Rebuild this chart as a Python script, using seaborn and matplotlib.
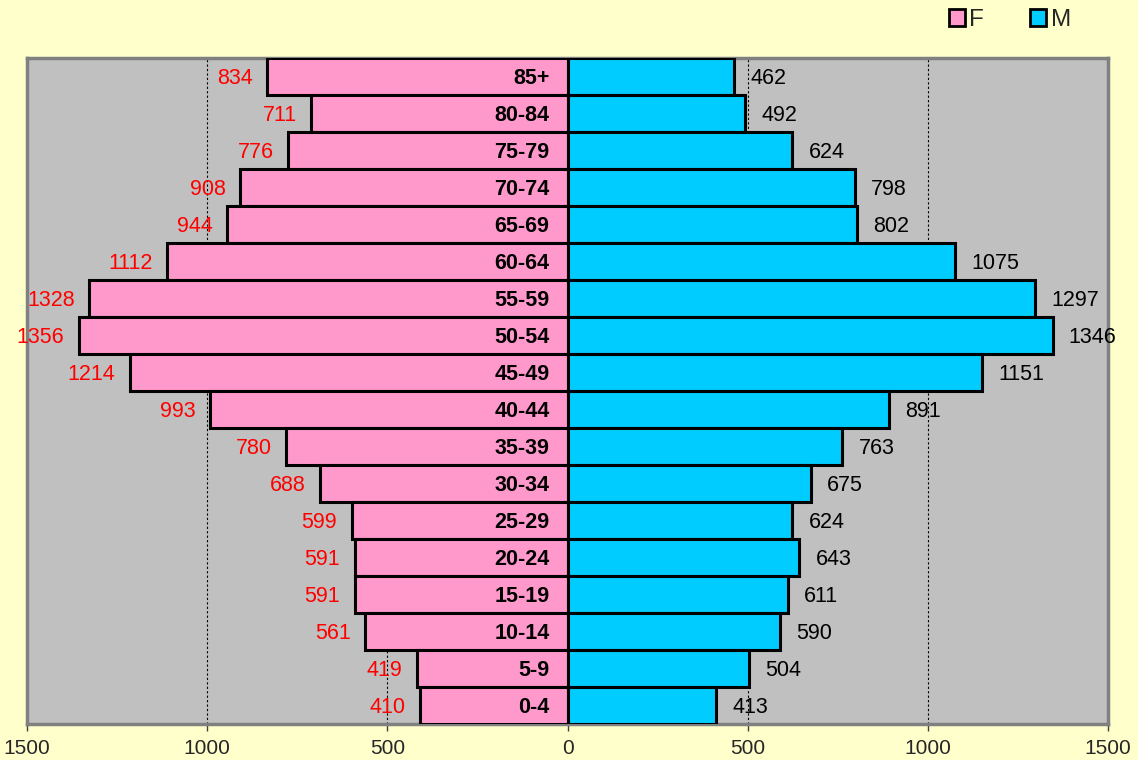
import matplotlib
matplotlib.use("Agg")
import matplotlib.pyplot as plt
from matplotlib.patches import Patch
from matplotlib.ticker import FuncFormatter
import seaborn as sns
import pandas as pd

# Age groups, youngest first
age_groups = ["0-4", "5-9", "10-14", "15-19", "20-24", "25-29", "30-34", "35-39",
              "40-44", "45-49", "50-54", "55-59", "60-64", "65-69", "70-74",
              "75-79", "80-84", "85+"]
females = [410, 419, 561, 591, 591, 599, 688, 780, 993, 1214, 1356, 1328,
           1112, 944, 908, 776, 711, 834]
males = [413, 504, 590, 611, 643, 624, 675, 763, 891, 1151, 1346, 1297,
         1075, 802, 798, 624, 492, 462]
x_ticks = [-1500, -1000, -500, 0, 500, 1000, 1500]

PINK = "#FF99CC"
CYAN = "#00CCFF"
PANEL = "#C0C0C0"
PAPER = "#FFFFCC"

sns.set_style("white")
plt.rcParams["font.family"] = ["Liberation Sans", "DejaVu Sans"]

df = pd.DataFrame({"age": age_groups, "F": females, "M": males})
df["F_neg"] = -df["F"]
order = age_groups[::-1]  # oldest group on top

fig = plt.figure(figsize=(11.38, 7.6), dpi=100, facecolor=PAPER)
ax = fig.add_axes([0.0237, 0.0474, 0.95, 0.8763])
ax.set_facecolor(PANEL)

sns.barplot(data=df, x="F_neg", y="age", order=order, color=PINK, width=1.0,
            edgecolor="black", linewidth=2.2, saturation=1, ax=ax, zorder=3)
sns.barplot(data=df, x="M", y="age", order=order, color=CYAN, width=1.0,
            edgecolor="black", linewidth=2.2, saturation=1, ax=ax, zorder=3)

# dotted reference lines
for xv in [-1000, -500, 500, 1000]:
    ax.axvline(xv, color="black", linestyle=(0, (2, 2)), linewidth=0.8, zorder=1)

ax.set_xlim(-1500, 1500)
ax.set_ylim(len(order) - 0.5, -0.5)

# value and category labels
for i, age in enumerate(order):
    row = df[df["age"] == age].iloc[0]
    f, m = row["F"], row["M"]
    yy = i + 0.05
    ax.text(-f - 40, yy, f"{f}", ha="right", va="center", color="red",
            fontsize=15.5, zorder=5, clip_on=False)
    ax.text(m + 45, yy, f"{m}", ha="left", va="center", color="black",
            fontsize=15.5, zorder=5, clip_on=False)
    ax.text(-50, yy, age, ha="right", va="center", color="black",
            fontsize=15.5, fontweight="bold", zorder=5)

ax.set_xticks(x_ticks)
ax.xaxis.set_major_formatter(FuncFormatter(lambda v, p: f"{abs(int(v))}"))
ax.tick_params(axis="x", direction="out", length=5, width=1, color="#404040",
               labelsize=15, pad=6, bottom=True)
ax.set_yticks([])
ax.set_xlabel("")
ax.set_ylabel("")

for side in ["left", "right", "top", "bottom"]:
    ax.spines[side].set_visible(True)
    ax.spines[side].set_color("#808080")
    ax.spines[side].set_linewidth(2.5)

handles = [Patch(facecolor=PINK, edgecolor="black", linewidth=2, label="F"),
           Patch(facecolor=CYAN, edgecolor="black", linewidth=2, label="M")]
fig.legend(handles=handles, loc="upper left", bbox_to_anchor=(0.8145, 1.017),
           ncol=2, frameon=False, fontsize=17.5, handlelength=0.65,
           handleheight=0.65, handletextpad=0.2, columnspacing=1.9)

fig.savefig("out.png", dpi=100, facecolor=PAPER)
